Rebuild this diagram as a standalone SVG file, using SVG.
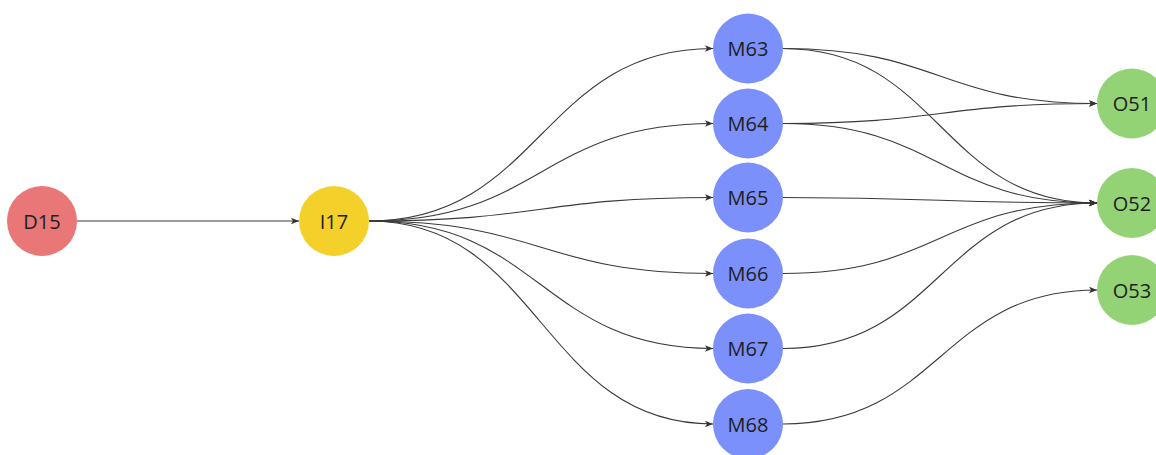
<svg xmlns="http://www.w3.org/2000/svg" width="1156" height="455" viewBox="0 0 1156 455">
<style>
.e{fill:none;stroke:#3a3a3a;stroke-width:1.1;marker-end:url(#ah)}
.n text{font-family:"Open Sans",sans-serif;font-size:20px;fill:#1e1e1e;text-anchor:middle;dominant-baseline:central}
.d{fill:#e97777}.i{fill:#f4d12a}.m{fill:#7b90fa}.o{fill:#93d375}
</style>
<defs>
<marker id="ah" viewBox="0 0 10 10" refX="10" refY="5" markerWidth="8" markerHeight="8" markerUnits="userSpaceOnUse" orient="auto">
<path d="M0,1 L10,5 L0,9 L2.5,5 Z" fill="#333"/>
</marker>
</defs>
<rect width="1156" height="455" fill="#fff"/>
<g id="connectors">
<path class="e" d="M77,221 L299,221"/>
<path class="e" d="M369,221 C541,221 541,48.5 713,48.5"/>
<path class="e" d="M369,221 C541,221 541,123.5 713,123.5"/>
<path class="e" d="M369,221 C541,221 541,197.5 713,197.5"/>
<path class="e" d="M369,221 C541,221 541,273.5 713,273.5"/>
<path class="e" d="M369,221 C541,221 541,348.5 713,348.5"/>
<path class="e" d="M369,221 C541,221 541,424 713,424"/>
<path class="e" d="M783,48.5 C940,48.5 940,103.5 1097,103.5"/>
<path class="e" d="M783,48.5 C940,48.5 940,203 1097,203"/>
<path class="e" d="M783,123.5 C940,123.5 940,103.5 1097,103.5"/>
<path class="e" d="M783,123.5 C940,123.5 940,203 1097,203"/>
<path class="e" d="M783,197.5 C940,197.5 940,203 1097,203"/>
<path class="e" d="M783,273.5 C940,273.5 940,203 1097,203"/>
<path class="e" d="M783,348.5 C940,348.5 940,203 1097,203"/>
<path class="e" d="M783,424 C940,424 940,290 1097,290"/>
</g>
<g id="D15" class="n"><circle class="d" cx="42" cy="221" r="35"/><text x="42" y="221">D15</text></g>
<g id="I17" class="n"><circle class="i" cx="334" cy="221" r="35"/><text x="334" y="221">I17</text></g>
<g id="M63" class="n"><circle class="m" cx="748" cy="48.5" r="35"/><text x="748" y="48.5">M63</text></g>
<g id="M64" class="n"><circle class="m" cx="748" cy="123.5" r="35"/><text x="748" y="123.5">M64</text></g>
<g id="M65" class="n"><circle class="m" cx="748" cy="197.5" r="35"/><text x="748" y="197.5">M65</text></g>
<g id="M66" class="n"><circle class="m" cx="748" cy="273.5" r="35"/><text x="748" y="273.5">M66</text></g>
<g id="M67" class="n"><circle class="m" cx="748" cy="348.5" r="35"/><text x="748" y="348.5">M67</text></g>
<g id="M68" class="n"><circle class="m" cx="748" cy="424" r="35"/><text x="748" y="424">M68</text></g>
<g id="O51" class="n"><circle class="o" cx="1132" cy="103.5" r="35"/><text x="1132" y="103.5">O51</text></g>
<g id="O52" class="n"><circle class="o" cx="1132" cy="203" r="35"/><text x="1132" y="203">O52</text></g>
<g id="O53" class="n"><circle class="o" cx="1132" cy="290" r="35"/><text x="1132" y="290">O53</text></g>
</svg>
